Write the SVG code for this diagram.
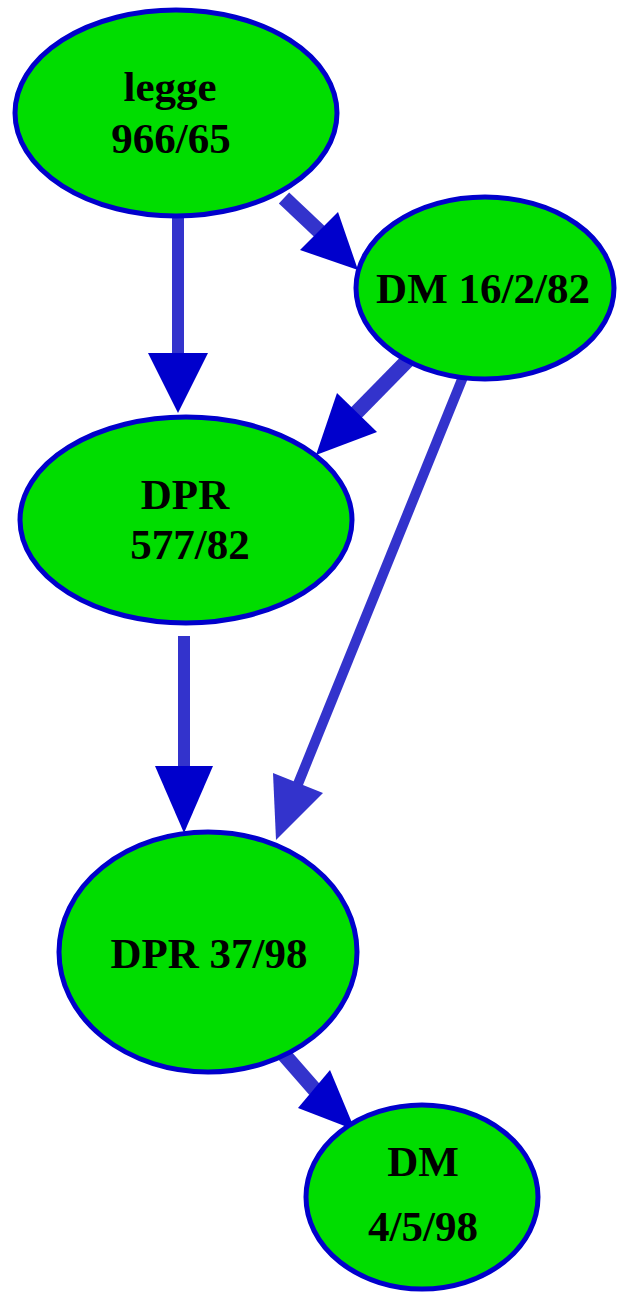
<svg xmlns="http://www.w3.org/2000/svg" width="617" height="1301" viewBox="0 0 617 1301">
<style>
.node ellipse{fill:#00dd00;stroke:#0000cc;stroke-width:5}
.node text{font-family:"Liberation Serif","Times New Roman",serif;font-weight:bold;font-size:43px;fill:#000;text-anchor:middle}
.edge line{stroke:#3333cc;stroke-linecap:butt}
.head{fill:#0000cc}
.headl{fill:#3333cc}
</style>
<rect width="617" height="1301" fill="#fff"/>
<g id="edges" class="edge">
<line x1="178" y1="218" x2="178" y2="355" stroke-width="12"/>
<polygon class="head" points="148,353 208,353 178,413"/>
<line x1="284" y1="198" x2="320" y2="232" stroke-width="15"/>
<polygon class="head" points="300,250 338,212 358,270"/>
<line x1="408" y1="360" x2="356" y2="413" stroke-width="15"/>
<polygon class="head" points="337,393 377,432 316,455"/>
<line x1="463" y1="377" x2="298" y2="784" stroke-width="10"/>
<polygon class="headl" points="273,773 323,793 276,840"/>
<line x1="184" y1="636" x2="184" y2="768" stroke-width="12"/>
<polygon class="head" points="155,766 213,766 184,833"/>
<line x1="280" y1="1050" x2="315" y2="1090" stroke-width="15"/>
<polygon class="head" points="298,1108 330,1070 355,1130"/>
</g>
<g id="n1" class="node">
<ellipse cx="176" cy="113" rx="161" ry="103"/>
<text x="170" y="101">legge</text>
<text x="171" y="153">966/65</text>
</g>
<g id="n2" class="node">
<ellipse cx="485" cy="288" rx="129" ry="91"/>
<text x="483" y="303">DM 16/2/82</text>
</g>
<g id="n3" class="node">
<ellipse cx="186" cy="520" rx="166" ry="103"/>
<text x="185" y="509">DPR</text>
<text x="190" y="559">577/82</text>
</g>
<g id="n4" class="node">
<ellipse cx="208" cy="952" rx="149" ry="120"/>
<text x="209" y="968">DPR 37/98</text>
</g>
<g id="n5" class="node">
<ellipse cx="422" cy="1197" rx="116" ry="92"/>
<text x="423" y="1176">DM</text>
<text x="423" y="1241">4/5/98</text>
</g>
</svg>
